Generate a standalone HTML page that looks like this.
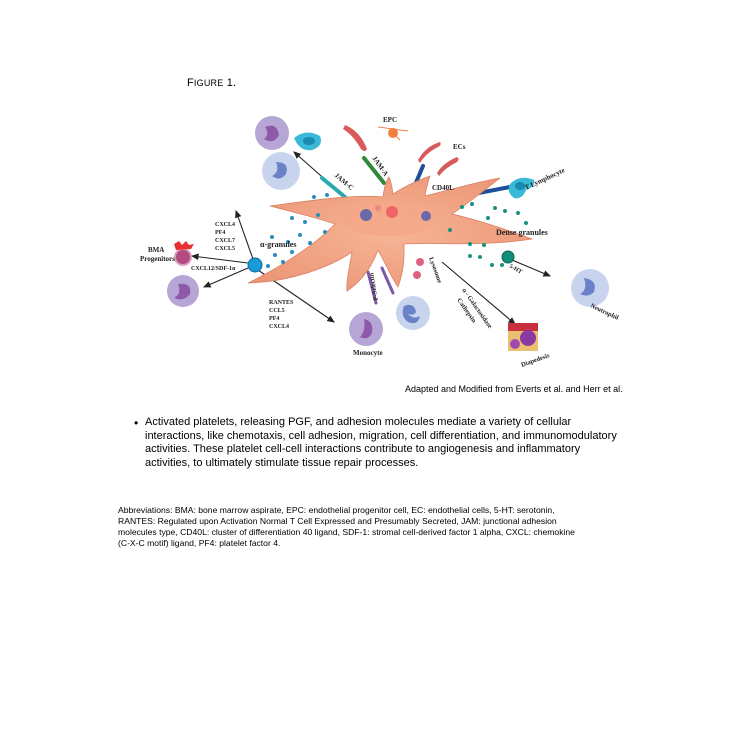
<!DOCTYPE html>
<html><head><meta charset="utf-8"><style>
html,body{margin:0;padding:0;background:#fff;width:750px;height:750px;overflow:hidden;position:relative;font-family:"Liberation Sans",sans-serif}
.t{position:absolute;white-space:nowrap;color:#000}
</style></head><body>
<div class="t" style="left:187px;top:77px;font-size:11px;letter-spacing:0.2px">F<span style="font-size:9px">IGURE</span> 1.</div>
<svg width="750" height="750" style="position:absolute;left:0;top:0" font-family="Liberation Serif,serif" font-weight="bold">
<defs>
<marker id="a" markerWidth="8" markerHeight="8" refX="6" refY="3" orient="auto"><path d="M0,0 L7,3 L0,6 z" fill="#222"/></marker>
<radialGradient id="pl" cx="50%" cy="50%" r="60%"><stop offset="0" stop-color="#f6b596"/><stop offset="1" stop-color="#ec9676"/></radialGradient>
</defs>
<g stroke="#222" stroke-width="1.1" fill="none" marker-end="url(#a)">
<line x1="346" y1="198" x2="294" y2="152"/>
<line x1="254" y1="262" x2="236" y2="211"/>
<line x1="248" y1="263" x2="192" y2="256"/>
<line x1="248" y1="268" x2="204" y2="287"/>
<line x1="258" y1="270" x2="334" y2="322"/>
<line x1="512" y1="260" x2="550" y2="276"/>
<line x1="442" y1="262" x2="515" y2="324"/>
</g>
<g stroke-linecap="round">
<line x1="322" y1="178" x2="345" y2="197" stroke="#2aa8b0" stroke-width="4"/>
<line x1="364" y1="158" x2="384" y2="183" stroke="#2f8a3a" stroke-width="4"/>
<line x1="423" y1="166" x2="412" y2="192" stroke="#1d4f9a" stroke-width="4"/>
<line x1="468" y1="195" x2="510" y2="187" stroke="#1d4f9a" stroke-width="4"/>
<line x1="368" y1="272" x2="376" y2="303" stroke="#7a5aa8" stroke-width="3"/>
<line x1="382" y1="268" x2="393" y2="293" stroke="#7a5aa8" stroke-width="3"/>
</g>
<path d="M383,197 C355,194 315,200 270,206 C300,214 318,218 335,224 C318,242 285,265 248,283 C292,282 332,266 352,252 C350,266 346,280 347,291 C362,281 372,266 378,250 C386,264 392,279 398,287 C405,268 404,252 404,244 C432,242 482,247 532,239 C505,229 478,220 452,214 C470,202 485,190 500,178 C472,183 450,190 425,196 C426,188 428,182 430,176 C416,181 402,188 393,194 C392,187 391,181 389,177 C385,183 384,190 383,197 Z" fill="url(#pl)" stroke="#d98060" stroke-width="0.8"/>
<path d="M340,205 C360,198 400,200 430,208 C440,225 420,235 400,236 C375,238 350,232 340,222 Z" fill="#f4a888" opacity="0.8"/>
<circle cx="366" cy="215" r="6" fill="#6a6aa8"/><circle cx="392" cy="212" r="6" fill="#e66"/><circle cx="378" cy="208" r="3" fill="#e88"/><circle cx="426" cy="216" r="5" fill="#6a6aa8"/>
<g fill="#2a8dc0">
<circle cx="314" cy="197" r="2"/><circle cx="327" cy="195" r="2"/><circle cx="292" cy="218" r="2"/><circle cx="305" cy="222" r="2"/><circle cx="318" cy="215" r="2"/><circle cx="300" cy="235" r="2"/><circle cx="288" cy="242" r="2"/><circle cx="310" cy="243" r="2"/><circle cx="275" cy="255" r="2"/><circle cx="292" cy="252" r="2"/><circle cx="268" cy="266" r="2"/><circle cx="283" cy="262" r="2"/><circle cx="272" cy="237" r="2"/><circle cx="325" cy="232" r="2"/>
</g>
<g fill="#1a9080">
<circle cx="462" cy="207" r="2"/><circle cx="472" cy="204" r="2"/><circle cx="495" cy="208" r="2"/><circle cx="505" cy="211" r="2"/><circle cx="518" cy="213" r="2"/><circle cx="488" cy="218" r="2"/><circle cx="526" cy="223" r="2"/><circle cx="450" cy="230" r="2"/><circle cx="470" cy="244" r="2"/><circle cx="484" cy="245" r="2"/><circle cx="480" cy="257" r="2"/><circle cx="492" cy="265" r="2"/><circle cx="502" cy="265" r="2"/><circle cx="470" cy="256" r="2"/>
</g>
<circle cx="255" cy="265" r="7" fill="#1a9ad8" stroke="#0a6a9a"/>
<circle cx="508" cy="257" r="6" fill="#10907a" stroke="#0a6050"/>
<g>
<circle cx="272" cy="133" r="17" fill="#b6a6d6"/><path d="M265,127 q12,-5 14,8 q-5,10 -15,4 q6,-5 1,-12z" fill="#8e5aa8"/>
<path d="M294,138 q12,-10 26,-2 q4,10 -8,14 q-12,2 -18,-12z" fill="#3ab8d8"/><ellipse cx="309" cy="141" rx="6" ry="4" fill="#1a8ab0"/>
<circle cx="281" cy="171" r="19" fill="#c8d4ee"/><path d="M276,162 q14,0 10,12 q-6,8 -14,2 q8,-4 4,-14z" fill="#6a82c8"/>
<path d="M345,125 q15,6 22,24 q-2,4 -6,0 q-8,-14 -18,-20z" fill="#d85a5a"/>
<path d="M418,160 q8,-14 22,-18 q2,3 -2,5 q-12,6 -18,16z" fill="#d85a5a"/>
<path d="M437,173 q6,-10 20,-16 q3,2 0,5 q-12,6 -18,14z" fill="#d85a5a"/>
<circle cx="393" cy="133" r="5" fill="#f08040"/><path d="M378,127 L408,131 M393,133 L400,140" stroke="#f08040" stroke-width="1"/>
<path d="M510,184 q10,-10 24,-4 q2,6 -8,10 q-4,10 -12,8 q-8,-6 -4,-14z" fill="#3ab8d8"/><ellipse cx="520" cy="186" rx="5" ry="4" fill="#1a8ab0"/>
<circle cx="183" cy="257" r="8" fill="#b04a80" stroke="#d8a0c0" stroke-width="2"/>
<path d="M174,244 l5,-3 l3,4 l4,-4 l3,4 l5,-1 l-3,5 l-15,1z" fill="#e83030"/>
<circle cx="183" cy="291" r="16" fill="#b6a6d6"/><path d="M178,284 q14,-2 12,10 q-6,8 -16,4 q8,-4 4,-14z" fill="#8e5aa8"/>
<circle cx="366" cy="329" r="17" fill="#b6a6d6"/><path d="M364,319 q10,2 8,14 q-4,8 -12,4 q6,-6 4,-18z" fill="#8e5aa8"/>
<circle cx="413" cy="313" r="17" fill="#c8d4ee"/><path d="M404,306 q10,-4 12,6 q-2,4 -8,2 q6,6 12,2 q-2,10 -12,6 q-8,-6 -4,-16z" fill="#6a82c8"/>
<circle cx="590" cy="288" r="19" fill="#c8d4ee"/><path d="M584,278 q14,2 10,14 q-6,6 -14,2 q8,-4 4,-16z" fill="#6a82c8"/>
<circle cx="420" cy="262" r="4" fill="#e06080"/><circle cx="417" cy="275" r="4" fill="#e06080"/>
<rect x="508" y="323" width="30" height="28" fill="#e8c070"/><rect x="508" y="323" width="30" height="8" fill="#c83040"/><circle cx="528" cy="338" r="8" fill="#8a3aa0"/><circle cx="515" cy="344" r="5" fill="#a04ab0"/>
</g>
<g font-size="7" fill="#222">
<text x="383" y="122">EPC</text>
<text x="453" y="149">ECs</text>
<text x="432" y="190">CD40L</text>
<text x="496" y="235" font-size="8">Dense granules</text>
<text x="260" y="247" font-size="8">α-granules</text>
<text x="215" y="226" font-size="6">CXCL4</text><text x="215" y="234" font-size="6">PF4</text><text x="215" y="242" font-size="6">CXCL7</text><text x="215" y="250" font-size="6">CXCL5</text>
<text x="148" y="252">BMA</text><text x="140" y="261">Progenitors</text>
<text x="191" y="270" font-size="6">CXCL12/SDF-1α</text>
<text x="269" y="304" font-size="6">RANTES</text><text x="269" y="312" font-size="6">CCL5</text><text x="269" y="320" font-size="6">PF4</text><text x="269" y="328" font-size="6">CXCL4</text>
<text x="353" y="355">Monocyte</text>
<text transform="translate(526,190) rotate(-25)">T Lymphocyte</text>
<text transform="translate(590,307) rotate(25)" font-size="6.5">Neutrophil</text>
<text transform="translate(522,367) rotate(-20)" font-size="6.5">Diapedesis</text>
<text transform="translate(509,267) rotate(30)" font-size="6">5-HT</text>
<text transform="translate(334,176) rotate(40)">JAM-C</text>
<text transform="translate(372,158) rotate(55)">JAM-A</text>
<text transform="translate(429,258) rotate(70)" font-size="6.5">Lysosome</text>
<text transform="translate(462,290) rotate(55)" font-size="6.5">α - Galactosidase</text>
<text transform="translate(457,300) rotate(55)" font-size="6.5">Cathepsin</text>
<text transform="translate(378,300) rotate(-100)" font-size="6.5">P-Selectin</text>
</g>
</svg>
<div class="t" style="left:405px;top:384px;font-size:9px">Adapted and Modified from Everts et al. and Herr et al.</div>
<div class="t" style="left:134px;top:416px;font-size:12px">•</div>
<div class="t" style="left:145px;top:416px;font-size:11px;line-height:13.6px">Activated platelets, releasing PGF, and adhesion molecules mediate a variety of cellular<br>interactions, like chemotaxis, cell adhesion, migration, cell differentiation, and immunomodulatory<br>activities. These platelet cell-cell interactions contribute to angiogenesis and inflammatory<br>activities, to ultimately stimulate tissue repair processes.</div>
<div class="t" style="left:118px;top:505px;font-size:8.6px;line-height:11px">Abbreviations: BMA: bone marrow aspirate, EPC: endothelial progenitor cell, EC: endothelial cells, 5-HT: serotonin,<br>RANTES: Regulated upon Activation Normal T Cell Expressed and Presumably Secreted, JAM: junctional adhesion<br>molecules type, CD40L: cluster of differentiation 40 ligand, SDF-1: stromal cell-derived factor 1 alpha, CXCL: chemokine<br>(C-X-C motif) ligand, PF4: platelet factor 4.</div>
</body></html>
